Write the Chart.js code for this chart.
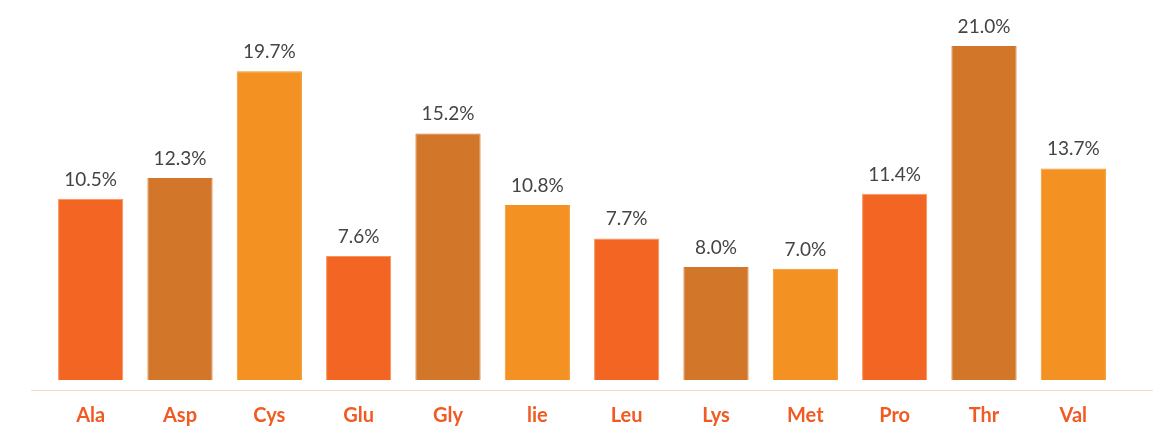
<!DOCTYPE html>
<html>
<head>
<meta charset="utf-8">
<script src="https://cdn.jsdelivr.net/npm/chart.js@4"></script>
<style>
  html, body { margin: 0; padding: 0; background: #ffffff; }
  #wrap { width: 1164px; height: 428px; position: relative; }
</style>
</head>
<body>
<div id="wrap"><canvas id="c" width="1164" height="428"></canvas></div>
<script>
// Categories (as printed in the reference)
const categories = ['Ala', 'Asp', 'Cys', 'Glu', 'Gly', 'lie', 'Leu', 'Lys', 'Met', 'Pro', 'Thr', 'Val'];
// Bar heights as drawn in the picture (scaled so that Thr = 21.0)
const barValues = [11.4, 12.7, 19.4, 7.8, 15.5, 11.0, 8.9, 7.1, 7.0, 11.7, 21.0, 13.3];
// Value labels printed above bars
const valueLabels = ['10.5%', '12.3%', '19.7%', '7.6%', '15.2%', '10.8%', '7.7%', '8.0%', '7.0%', '11.4%', '21.0%', '13.7%'];

const RED = '#F26522', BROWN = '#D27629', ORANGE = '#F39222';
const barColors = categories.map((_, i) => [RED, BROWN, ORANGE][i % 3]);
const borderColors = categories.map((_, i) => i % 3 === 0 ? '#F7955C' : [RED, BROWN, ORANGE][i % 3]);

const valueLabelPlugin = {
  id: 'valueLabels',
  afterDatasetsDraw(chart) {
    const ctx = chart.ctx;
    const meta = chart.getDatasetMeta(0);
    ctx.save();
    ctx.font = '400 19px Lato, "Open Sans", sans-serif';
    ctx.fillStyle = '#444444';
    ctx.textAlign = 'center';
    ctx.textBaseline = 'alphabetic';
    meta.data.forEach((bar, i) => {
      ctx.fillText(valueLabels[i], bar.x, bar.y - 13);
    });
    ctx.restore();
  }
};

const baseLinePlugin = {
  id: 'baseLine',
  beforeDatasetsDraw(chart) {
    const { ctx, chartArea } = chart;
    const y = chartArea.bottom + 10.5;
    ctx.save();
    ctx.strokeStyle = '#FBD9C2';
    ctx.lineWidth = 1;
    ctx.beginPath();
    ctx.moveTo(chartArea.left - 15, y);
    ctx.lineTo(chartArea.right + 35, y);
    ctx.stroke();
    ctx.restore();
  }
};

new Chart(document.getElementById('c'), {
  type: 'bar',
  data: {
    labels: categories,
    datasets: [{
      data: barValues,
      backgroundColor: barColors,
      borderColor: borderColors,
      borderWidth: 1,
      categoryPercentage: 1.0,
      barPercentage: 0.73
    }]
  },
  options: {
    responsive: false,
    animation: false,
    devicePixelRatio: 1,
    layout: { padding: { left: 46, right: 46, top: 30, bottom: -24 } },
    plugins: { legend: { display: false }, tooltip: { enabled: false } },
    scales: {
      x: {
        grid: { display: false, drawTicks: false },
        border: { display: false },
        ticks: {
          color: '#F15A22',
          padding: 24,
          font: { family: 'Lato, "Open Sans", sans-serif', size: 20, weight: 'bold' }
        }
      },
      y: {
        display: false,
        min: 0,
        max: 22
      }
    }
  },
  plugins: [valueLabelPlugin, baseLinePlugin]
});
</script>
</body>
</html>
